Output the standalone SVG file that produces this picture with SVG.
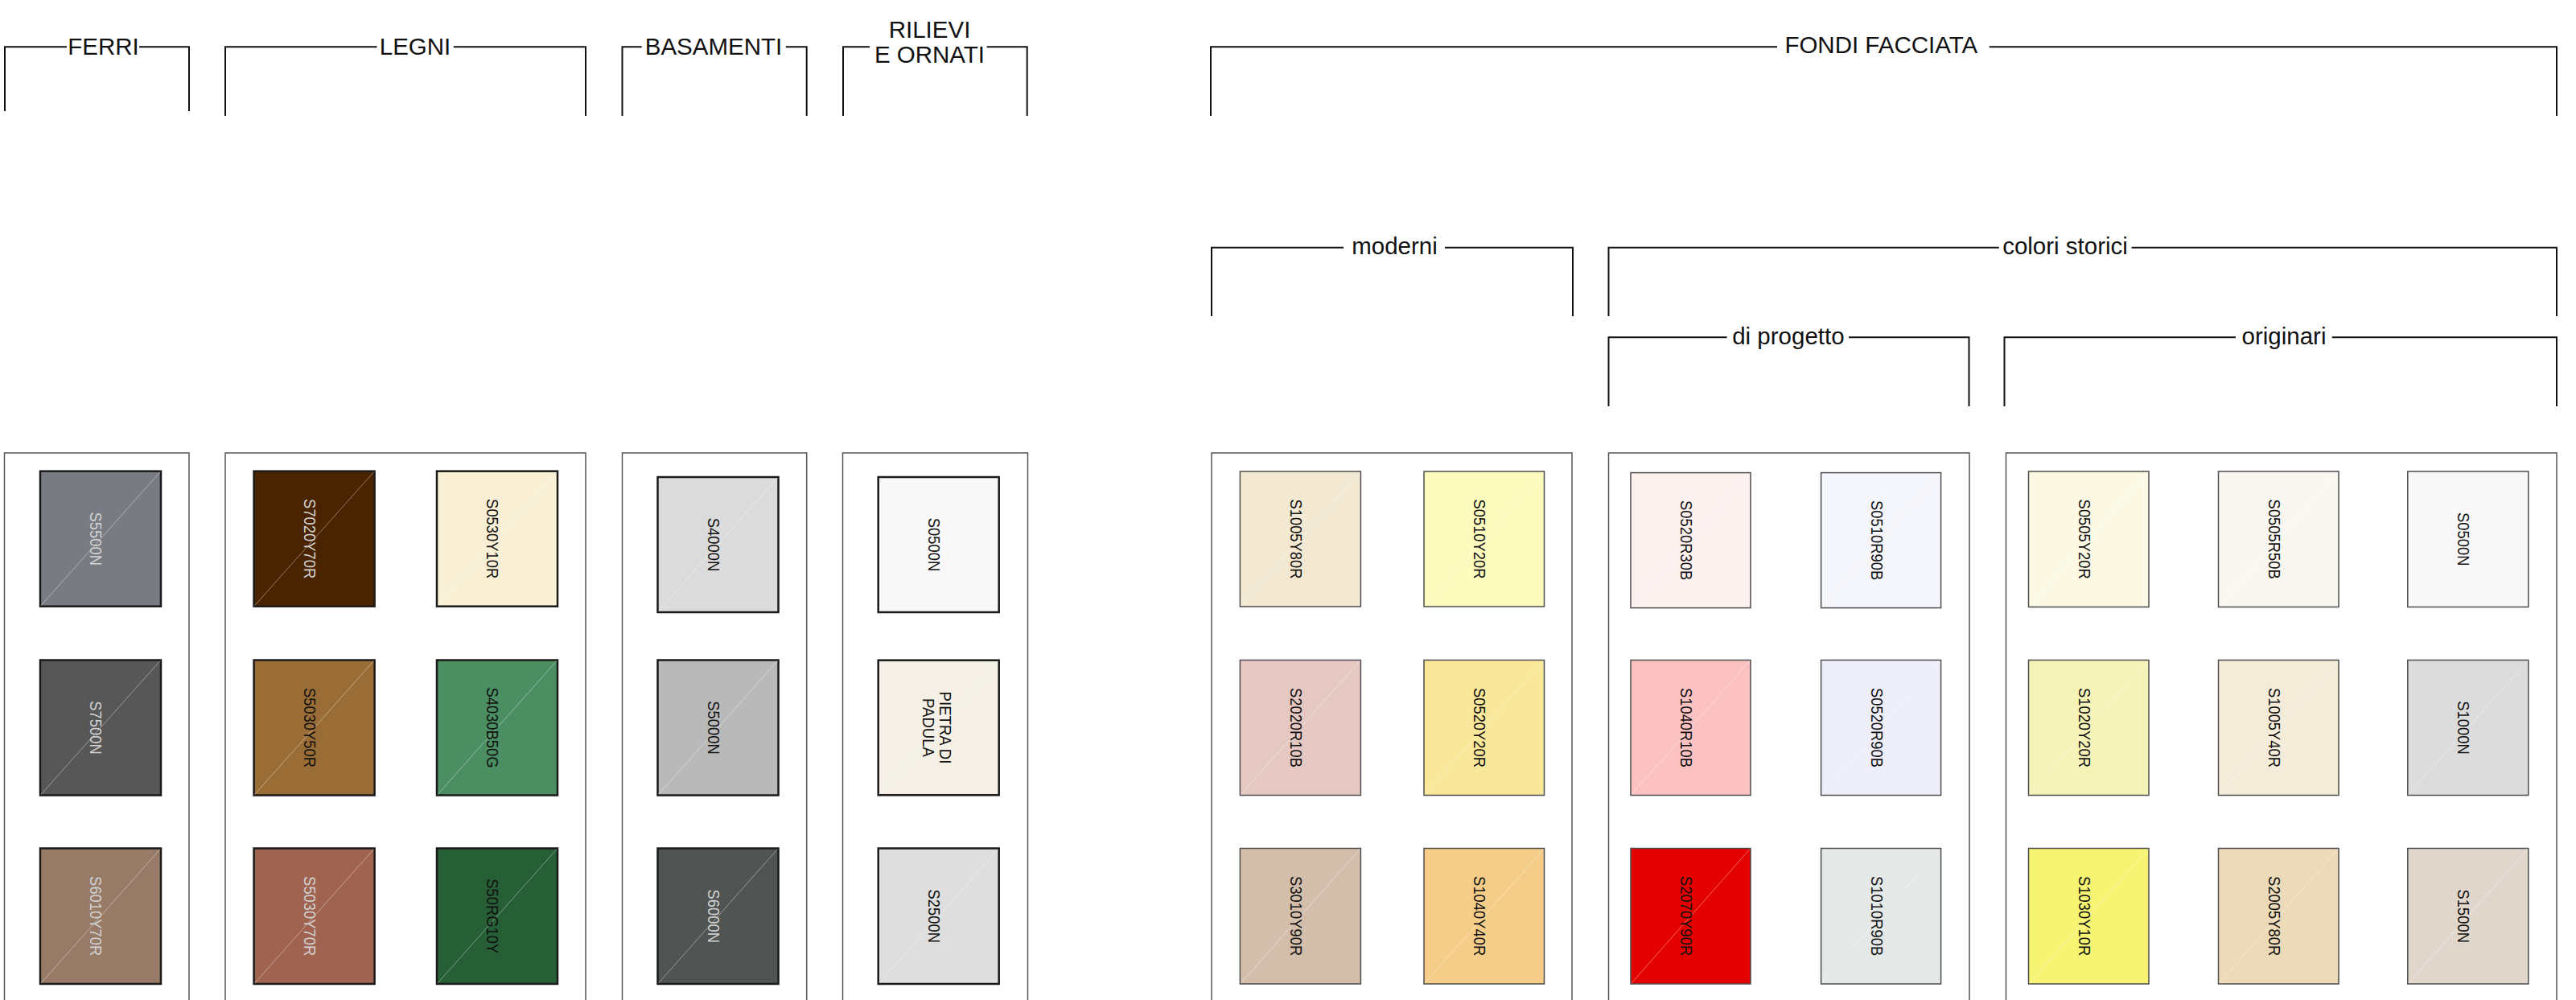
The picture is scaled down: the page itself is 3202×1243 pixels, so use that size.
<svg xmlns="http://www.w3.org/2000/svg" width="3202" height="1243" viewBox="0 0 3202 1243">
<style>
.bk{fill:none;stroke:#111;stroke-width:2;stroke-linecap:butt}
.hd{font-family:"Liberation Sans",Arial,sans-serif;font-size:29.5px;fill:#111;text-anchor:middle}
.pn{fill:#fff;stroke:#555;stroke-width:1.5}
.sa{stroke:#1a1a1a;stroke-width:2.5}
.sb{stroke:#4d4d4d;stroke-width:1.5}
.dg{stroke:#fff;stroke-opacity:0.4;stroke-width:1}
.tl{font-family:"Liberation Sans",Arial,sans-serif;font-size:20px;text-anchor:middle;fill:#111}
.lt{fill:#d2d2d2}
</style>
<rect width="3202" height="1243" fill="#fff"/>

<!-- headers / brackets -->
<g id="connectors">
<g id="hdr-ferri"><path class="bk" d="M6,138 V58.3 H83 M173,58.3 H235 V138"/><text class="hd" x="128.5" y="68">FERRI</text></g>
<g id="hdr-legni"><path class="bk" d="M280,144 V58.3 H468.5 M563.8,58.3 H728 V144"/><text class="hd" x="516" y="67.5">LEGNI</text></g>
<g id="hdr-basamenti"><path class="bk" d="M773.5,144 V58.3 H797.7 M976.8,58.3 H1002.7 V144"/><text class="hd" x="887" y="67.5">BASAMENTI</text></g>
<g id="hdr-rilievi"><path class="bk" d="M1048,144 V58.3 H1081 M1226.7,58.3 H1276.7 V144"/><text class="hd" x="1155.5" y="47.3">RILIEVI</text><text class="hd" x="1155.5" y="78.3">E ORNATI</text></g>
<g id="hdr-fondi"><path class="bk" d="M1505,144 V58.3 H2209 M2472.7,58.3 H3178 V144"/><text class="hd" x="2338.3" y="66">FONDI FACCIATA</text></g>
<g id="hdr-moderni"><path class="bk" d="M1506,393 V307.7 H1670 M1796,307.7 H1955 V393"/><text class="hd" x="1733.5" y="316">moderni</text></g>
<g id="hdr-storici"><path class="bk" d="M1999.5,393 V307.7 H2484.8 M2649.6,307.7 H3178 V393"/><text class="hd" x="2567" y="316">colori storici</text></g>
<g id="hdr-progetto"><path class="bk" d="M1999.5,505 V419.3 H2146.6 M2298,419.3 H2447.5 V505"/><text class="hd" x="2222.9" y="427.6">di progetto</text></g>
<g id="hdr-originari"><path class="bk" d="M2491.5,505 V419.3 H2779 M2898.8,419.3 H3178 V505"/><text class="hd" x="2839" y="427.6">originari</text></g>
</g>

<!-- panels -->
<g id="panel-ferri"><rect class="pn" x="5.5" y="563" width="229.5" height="700"/></g>
<g id="panel-legni"><rect class="pn" x="280" y="563" width="448" height="700"/></g>
<g id="panel-basamenti"><rect class="pn" x="773.5" y="563" width="229.2" height="700"/></g>
<g id="panel-rilievi"><rect class="pn" x="1047.5" y="563" width="230" height="700"/></g>
<g id="panel-moderni"><rect class="pn" x="1506" y="563" width="448" height="700"/></g>
<g id="panel-progetto"><rect class="pn" x="1999.5" y="563" width="448.5" height="700"/></g>
<g id="panel-originari"><rect class="pn" x="2493.5" y="563" width="684.5" height="700"/></g>

<!-- FERRI -->
<g id="sw-ferri-1"><rect class="sa" x="50" y="585.7" width="150" height="168" fill="#797b82"/><line class="dg" x1="51" y1="752.7" x2="199" y2="586.7"/><g transform="translate(125,669.7) rotate(90) scale(0.92,1)"><text class="tl lt" y="12.5">S5500N</text></g></g>
<g id="sw-ferri-2"><rect class="sa" x="50" y="820.5" width="150" height="168" fill="#575757"/><line class="dg" x1="51" y1="987.5" x2="199" y2="821.5"/><g transform="translate(125,904.5) rotate(90) scale(0.92,1)"><text class="tl lt" y="12.5">S7500N</text></g></g>
<g id="sw-ferri-3"><rect class="sa" x="50" y="1054.5" width="150" height="168.5" fill="#977b66"/><line class="dg" x1="51" y1="1222" x2="199" y2="1055.5"/><g transform="translate(125,1138.7) rotate(90) scale(0.92,1)"><text class="tl lt" y="12.5">S6010Y70R</text></g></g>

<!-- LEGNI -->
<g id="sw-legni-1"><rect class="sa" x="315.6" y="585.7" width="150" height="168" fill="#4a2300"/><line class="dg" x1="316.6" y1="752.7" x2="464.6" y2="586.7"/><g transform="translate(390.6,669.7) rotate(90) scale(0.92,1)"><text class="tl lt" y="12.5">S7020Y70R</text></g></g>
<g id="sw-legni-2"><rect class="sa" x="543" y="585.7" width="150" height="168" fill="#f9efd4"/><line class="dg" x1="544" y1="752.7" x2="692" y2="586.7"/><g transform="translate(618,669.7) rotate(90) scale(0.92,1)"><text class="tl" y="12.5">S0530Y10R</text></g></g>
<g id="sw-legni-3"><rect class="sa" x="315.6" y="820.5" width="150" height="168" fill="#9a6d36"/><line class="dg" x1="316.6" y1="987.5" x2="464.6" y2="821.5"/><g transform="translate(390.6,904.5) rotate(90) scale(0.92,1)"><text class="tl" y="12.5">S5030Y50R</text></g></g>
<g id="sw-legni-4"><rect class="sa" x="543" y="820.5" width="150" height="168" fill="#4a8e62"/><line class="dg" x1="544" y1="987.5" x2="692" y2="821.5"/><g transform="translate(618,904.5) rotate(90) scale(0.92,1)"><text class="tl" y="12.5">S4030B50G</text></g></g>
<g id="sw-legni-5"><rect class="sa" x="315.6" y="1054.5" width="150" height="168.5" fill="#a06350"/><line class="dg" x1="316.6" y1="1222" x2="464.6" y2="1055.5"/><g transform="translate(390.6,1138.7) rotate(90) scale(0.92,1)"><text class="tl lt" y="12.5">S5030Y70R</text></g></g>
<g id="sw-legni-6"><rect class="sa" x="543" y="1054.5" width="150" height="168.5" fill="#265e35"/><line class="dg" x1="544" y1="1222" x2="692" y2="1055.5"/><g transform="translate(618,1138.7) rotate(90) scale(0.92,1)"><text class="tl" y="12.5">S50RG10Y</text></g></g>

<!-- BASAMENTI -->
<g id="sw-bas-1"><rect class="sa" x="817.5" y="593" width="150" height="168" fill="#dbdbdb"/><line class="dg" x1="818.5" y1="760" x2="966.5" y2="594"/><g transform="translate(892.5,677) rotate(90) scale(0.92,1)"><text class="tl" y="12.5">S4000N</text></g></g>
<g id="sw-bas-2"><rect class="sa" x="817.5" y="820.5" width="150" height="168" fill="#b9b9b9"/><line class="dg" x1="818.5" y1="987.5" x2="966.5" y2="821.5"/><g transform="translate(892.5,904.5) rotate(90) scale(0.92,1)"><text class="tl" y="12.5">S5000N</text></g></g>
<g id="sw-bas-3"><rect class="sa" x="817.5" y="1054.5" width="150" height="168.5" fill="#505553"/><line class="dg" x1="818.5" y1="1222" x2="966.5" y2="1055.5"/><g transform="translate(892.5,1138.7) rotate(90) scale(0.92,1)"><text class="tl lt" y="12.5">S6000N</text></g></g>

<!-- RILIEVI -->
<g id="sw-ril-1"><rect class="sa" x="1091.7" y="593" width="150" height="168" fill="#f8f8f8"/><line class="dg" x1="1092.7" y1="760" x2="1240.7" y2="594"/><g transform="translate(1166.7,677) rotate(90) scale(0.92,1)"><text class="tl" y="12.5">S0500N</text></g></g>
<g id="sw-ril-2"><rect class="sa" x="1091.7" y="820.7" width="150" height="167.6" fill="#f4f0e5"/><line class="dg" x1="1092.7" y1="987.3" x2="1240.7" y2="821.7"/><g transform="translate(1166.7,904.5) rotate(90) scale(0.93,1)"><text class="tl" y="-1.6">PIETRA DI</text><text class="tl" y="20">PADULA</text></g></g>
<g id="sw-ril-3"><rect class="sa" x="1091.7" y="1054.5" width="150" height="168.5" fill="#dedede"/><line class="dg" x1="1092.7" y1="1222" x2="1240.7" y2="1055.5"/><g transform="translate(1166.7,1138.7) rotate(90) scale(0.92,1)"><text class="tl" y="12.5">S2500N</text></g></g>

<!-- MODERNI -->
<g id="sw-mod-1"><rect class="sb" x="1541.4" y="586" width="150" height="168" fill="#f3e8d2"/><line class="dg" x1="1542.4" y1="753" x2="1690.4" y2="587"/><g transform="translate(1616.4,670) rotate(90) scale(0.92,1)"><text class="tl" y="12.5">S1005Y80R</text></g></g>
<g id="sw-mod-2"><rect class="sb" x="1770" y="586" width="149.5" height="168" fill="#fcfbbd"/><line class="dg" x1="1771" y1="753" x2="1918.5" y2="587"/><g transform="translate(1844.8,670) rotate(90) scale(0.92,1)"><text class="tl" y="12.5">S0510Y20R</text></g></g>
<g id="sw-mod-3"><rect class="sb" x="1541.4" y="820.5" width="150" height="168" fill="#e6c8c2"/><line class="dg" x1="1542.4" y1="987.5" x2="1690.4" y2="821.5"/><g transform="translate(1616.4,904.5) rotate(90) scale(0.92,1)"><text class="tl" y="12.5">S2020R10B</text></g></g>
<g id="sw-mod-4"><rect class="sb" x="1770" y="820.5" width="149.5" height="168" fill="#f9e79a"/><line class="dg" x1="1771" y1="987.5" x2="1918.5" y2="821.5"/><g transform="translate(1844.8,904.5) rotate(90) scale(0.92,1)"><text class="tl" y="12.5">S0520Y20R</text></g></g>
<g id="sw-mod-5"><rect class="sb" x="1541.4" y="1054.5" width="150" height="168.5" fill="#d3beac"/><line class="dg" x1="1542.4" y1="1222" x2="1690.4" y2="1055.5"/><g transform="translate(1616.4,1138.7) rotate(90) scale(0.92,1)"><text class="tl" y="12.5">S3010Y90R</text></g></g>
<g id="sw-mod-6"><rect class="sb" x="1770" y="1054.5" width="149.5" height="168.5" fill="#f5cd88"/><line class="dg" x1="1771" y1="1222" x2="1918.5" y2="1055.5"/><g transform="translate(1844.8,1138.7) rotate(90) scale(0.92,1)"><text class="tl" y="12.5">S1040Y40R</text></g></g>

<!-- DI PROGETTO -->
<g id="sw-prog-1"><rect class="sb" x="2027" y="587.6" width="149" height="168" fill="#fdf1f0"/><line class="dg" x1="2028" y1="754.6" x2="2175" y2="588.6"/><g transform="translate(2101.5,671.6) rotate(90) scale(0.92,1)"><text class="tl" y="12.5">S0520R30B</text></g></g>
<g id="sw-prog-2"><rect class="sb" x="2263.6" y="587.6" width="149" height="168" fill="#f5f6fb"/><line class="dg" x1="2264.6" y1="754.6" x2="2411.6" y2="588.6"/><g transform="translate(2338.1,671.6) rotate(90) scale(0.92,1)"><text class="tl" y="12.5">S0510R90B</text></g></g>
<g id="sw-prog-3"><rect class="sb" x="2027" y="820.5" width="149" height="168" fill="#fcc2c2"/><line class="dg" x1="2028" y1="987.5" x2="2175" y2="821.5"/><g transform="translate(2101.5,904.5) rotate(90) scale(0.92,1)"><text class="tl" y="12.5">S1040R10B</text></g></g>
<g id="sw-prog-4"><rect class="sb" x="2263.6" y="820.5" width="149" height="168" fill="#eeeefa"/><line class="dg" x1="2264.6" y1="987.5" x2="2411.6" y2="821.5"/><g transform="translate(2338.1,904.5) rotate(90) scale(0.92,1)"><text class="tl" y="12.5">S0520R90B</text></g></g>
<g id="sw-prog-5"><rect class="sb" x="2027" y="1054.5" width="149" height="168.5" fill="#e50000"/><line class="dg" x1="2028" y1="1222" x2="2175" y2="1055.5"/><g transform="translate(2101.5,1138.7) rotate(90) scale(0.92,1)"><text class="tl" y="12.5">S2070Y90R</text></g></g>
<g id="sw-prog-6"><rect class="sb" x="2263.6" y="1054.5" width="149" height="168.5" fill="#e4e9e8"/><line class="dg" x1="2264.6" y1="1222" x2="2411.6" y2="1055.5"/><g transform="translate(2338.1,1138.7) rotate(90) scale(0.92,1)"><text class="tl" y="12.5">S1010R90B</text></g></g>

<!-- ORIGINARI -->
<g id="sw-orig-1"><rect class="sb" x="2521.5" y="586" width="149.5" height="168.5" fill="#fbf8e4"/><line class="dg" x1="2522.5" y1="753.5" x2="2670" y2="587"/><g transform="translate(2596.2,670.2) rotate(90) scale(0.92,1)"><text class="tl" y="12.5">S0505Y20R</text></g></g>
<g id="sw-orig-2"><rect class="sb" x="2757.5" y="586" width="149.5" height="168.5" fill="#f9f7f0"/><line class="dg" x1="2758.5" y1="753.5" x2="2906" y2="587"/><g transform="translate(2832.2,670.2) rotate(90) scale(0.92,1)"><text class="tl" y="12.5">S0505R50B</text></g></g>
<g id="sw-orig-3"><rect class="sb" x="2992.8" y="586" width="150" height="168.5" fill="#f8f8f8"/><line class="dg" x1="2993.8" y1="753.5" x2="3141.8" y2="587"/><g transform="translate(3067.8,670.2) rotate(90) scale(0.92,1)"><text class="tl" y="12.5">S0500N</text></g></g>
<g id="sw-orig-4"><rect class="sb" x="2521.5" y="820.5" width="149.5" height="168" fill="#f6f3b9"/><line class="dg" x1="2522.5" y1="987.5" x2="2670" y2="821.5"/><g transform="translate(2596.2,904.5) rotate(90) scale(0.92,1)"><text class="tl" y="12.5">S1020Y20R</text></g></g>
<g id="sw-orig-5"><rect class="sb" x="2757.5" y="820.5" width="149.5" height="168" fill="#f5ebd9"/><line class="dg" x1="2758.5" y1="987.5" x2="2906" y2="821.5"/><g transform="translate(2832.2,904.5) rotate(90) scale(0.92,1)"><text class="tl" y="12.5">S1005Y40R</text></g></g>
<g id="sw-orig-6"><rect class="sb" x="2992.8" y="820.5" width="150" height="168" fill="#dcdcdc"/><line class="dg" x1="2993.8" y1="987.5" x2="3141.8" y2="821.5"/><g transform="translate(3067.8,904.5) rotate(90) scale(0.92,1)"><text class="tl" y="12.5">S1000N</text></g></g>
<g id="sw-orig-7"><rect class="sb" x="2521.5" y="1054.5" width="149.5" height="168.5" fill="#f7f473"/><line class="dg" x1="2522.5" y1="1222" x2="2670" y2="1055.5"/><g transform="translate(2596.2,1138.7) rotate(90) scale(0.92,1)"><text class="tl" y="12.5">S1030Y10R</text></g></g>
<g id="sw-orig-8"><rect class="sb" x="2757.5" y="1054.5" width="149.5" height="168.5" fill="#ecdab8"/><line class="dg" x1="2758.5" y1="1222" x2="2906" y2="1055.5"/><g transform="translate(2832.2,1138.7) rotate(90) scale(0.92,1)"><text class="tl" y="12.5">S2005Y80R</text></g></g>
<g id="sw-orig-9"><rect class="sb" x="2992.8" y="1054.5" width="150" height="168.5" fill="#e1d6cb"/><line class="dg" x1="2993.8" y1="1222" x2="3141.8" y2="1055.5"/><g transform="translate(3067.8,1138.7) rotate(90) scale(0.92,1)"><text class="tl" y="12.5">S1500N</text></g></g>
</svg>
